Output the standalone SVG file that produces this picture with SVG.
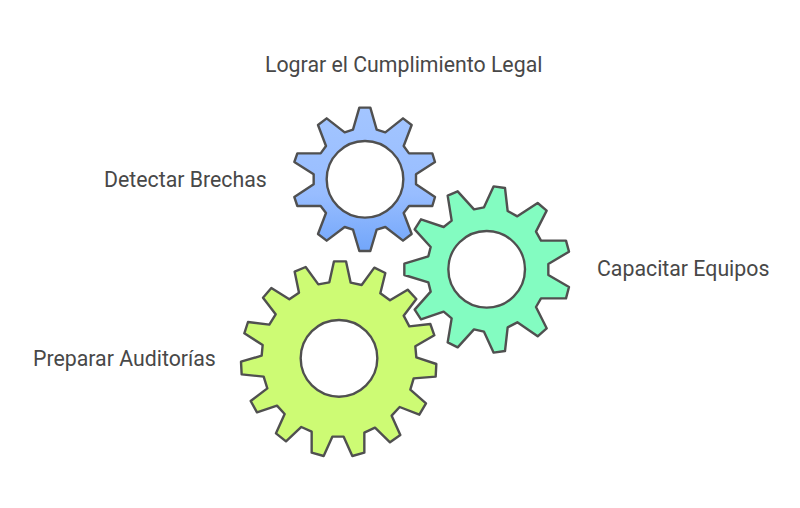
<svg xmlns="http://www.w3.org/2000/svg" width="800" height="508" viewBox="0 0 800 508">
<style>
.g{stroke:#505050;stroke-width:7.2;stroke-linejoin:round;fill-rule:evenodd}
.t{font-family:Roboto,"Liberation Sans",sans-serif;font-size:21.3px;fill:#484848}
</style>
<defs>
<linearGradient id="b" x1="0" y1="0" x2="0" y2="1"><stop offset="0" stop-color="#a3c5ff"/><stop offset="0.6" stop-color="#98bdff"/><stop offset="1" stop-color="#72a6fa"/></linearGradient>
</defs>
<rect width="800" height="508" fill="#fff"/>
<g id="gear-blue"><path class="g" fill="url(#b)" transform="translate(280 95) scale(.33333)" d="M238 38L271 38L290 104L316 112L369 70L395 90L371 153L387 175L457 175L465 201L408 238L408 268L465 306L457 333L387 333L371 354L395 417L369 437L316 396L290 404L271 468L238 468L219 404L194 396L140 437L114 417L138 354L122 333L52 333L43 306L101 268L101 238L43 201L52 175L122 175L138 153L114 90L140 70L194 112L219 104ZM370 253A115 115 0 1 0 140 253A115 115 0 1 0 370 253Z"/></g>
<g id="gear-green"><path class="g" fill="#83fcc1" transform="translate(395 175) scale(.33333)" d="M296 34L330 39L338 108L367 124L428 84L455 107L423 170L438 197L513 197L522 230L460 267L460 300L522 336L513 370L438 370L423 396L455 460L428 484L367 442L338 457L330 528L296 533L267 470L237 463L188 517L158 502L170 430L146 410L78 433L59 404L107 350L100 322L28 300L28 266L100 244L107 216L59 163L78 133L146 156L170 137L158 62L188 49L237 103L267 97ZM390 283A115 115 0 1 0 160 283A115 115 0 1 0 390 283Z"/></g>
<g id="gear-lime"><path class="g" fill="#cdfb74" transform="translate(235 255) scale(.33333)" d="M297 19L333 19L347 83L380 90L418 38L451 54L436 115L465 136L518 104L544 132L506 182L523 214L586 207L598 241L541 274L544 307L604 327L602 365L536 370L526 404L573 445L553 479L494 456L470 482L496 540L465 562L420 518L388 533L388 593L352 603L326 545L292 545L266 603L230 593L230 530L199 516L153 559L123 535L149 477L126 452L66 472L47 438L97 400L86 365L20 358L18 320L80 302L83 270L28 235L39 201L103 209L122 178L84 128L109 99L163 133L192 113L179 50L212 36L250 88L283 82ZM427 310A115 115 0 1 0 197 310A115 115 0 1 0 427 310Z"/></g>
<g id="labels">
<text class="t" x="265" y="71.5">Lograr el Cumplimiento Legal</text>
<text class="t" x="104" y="186.5">Detectar Brechas</text>
<text class="t" x="597" y="275.5">Capacitar Equipos</text>
<text class="t" x="33" y="365.5">Preparar Auditorías</text>
</g>
</svg>
